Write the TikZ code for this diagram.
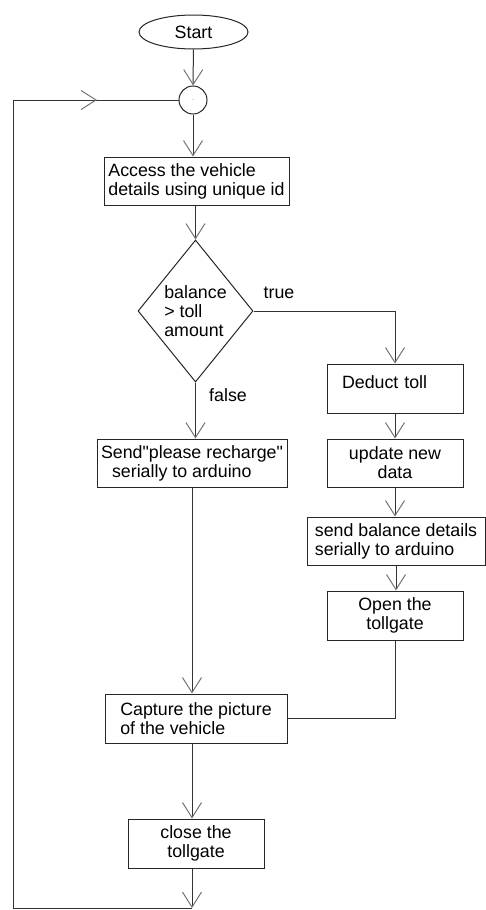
\documentclass[tikz,border=0pt]{standalone}
\usepackage{fontspec}
\setmainfont{Liberation Sans}[Ligatures=TeXOff]
\usetikzlibrary{shapes.geometric,arrows.meta}

\begin{document}
\begin{tikzpicture}[
  x=1pt, y=-1pt,
  font=\fontsize{17.8}{19}\selectfont,
  line width=1pt,
  flowline/.style={draw=black!80},
  flowarrow/.style={flowline,-{Straight Barb[length=15pt,width=19pt,color=black!55]}},
  procbox/.style={draw=black!85,rectangle,inner sep=0pt,align=center,minimum height=49pt},
  leftbox/.style={procbox,align=left}
]
\useasboundingbox (0,0) rectangle (486,910);
\node[draw=black!85,ellipse,minimum width=109pt,minimum height=34pt,inner sep=0pt] (start) at (193.5,32) {Start};
\node[draw=black!85,circle,minimum size=28pt,inner sep=0pt] (junc) at (193,100) {\tiny .};
\node[leftbox,minimum width=185pt,minimum height=48pt] (access) at (196.5,181) {Access the vehicle\\details using unique id};
\node[draw=black!85,diamond,aspect=0.81,minimum width=115pt,minimum height=142pt,inner sep=0pt,align=left] (check) at (195.5,311) {balance\\> toll\\amount};
\node[procbox,align=left,text width=106pt,inner xsep=15pt,text depth=12pt] (deduct) at (395,388.5) {Deduct toll};
\node[leftbox,minimum width=190pt,minimum height=48pt] (recharge) at (192,463) {Send"please recharge"\\\hspace{11pt}serially to arduino};
\node[procbox,minimum width=136pt,minimum height=48pt] (update) at (395,463) {update new\\data};
\node[leftbox,minimum width=178pt,minimum height=48pt] (balance) at (396,541) {send balance details\\serially to arduino};
\node[procbox,minimum width=136pt] (opengate) at (395,615.5) {Open the\\tollgate};
\node[leftbox,minimum width=182pt] (capture) at (196,718.5) {Capture the picture\\of the vehicle};
\node[procbox,minimum width=136pt] (closegate) at (196,843.5) {close the\\tollgate};
\node (lbltrue) at (279,293) {true};
\node (lblfalse) at (228,395) {false};
% loop back corners
\coordinate (loopend) at (192,908);
\coordinate (loopcorner) at (13,908);
\coordinate (looptop) at (13,100);
\coordinate (looptip) at (97,100);

\path (start) edge[flowarrow] (junc);
\draw[flowarrow] (junc.south) -- (junc.south |- access.north);
\draw[flowarrow] (access.south -| check.north) -- (check.north);
\draw[flowarrow] (check.east) -| (deduct.north);
\draw[flowarrow] (check.south) -- (check.south |- recharge.north);
\path (deduct) edge[flowarrow] (update);
\draw[flowarrow] (update.south) -- (update.south |- balance.north);
\draw[flowarrow] (balance.south) -- (balance.south |- opengate.north);
\draw[flowline] (opengate.south) |- (capture.east);
\draw[flowarrow] (recharge.south) -- (recharge.south |- capture.north);
\draw[flowarrow] (recharge.south |- capture.south) -- (recharge.south |- closegate.north);
\draw[flowarrow] (recharge.south |- closegate.south) -- (loopend);
\draw[flowline] (loopend) -- (loopcorner) -- (looptop) -- (junc.west);
\draw[flowarrow] (looptop) -- (looptip);
\end{tikzpicture}
\end{document}
